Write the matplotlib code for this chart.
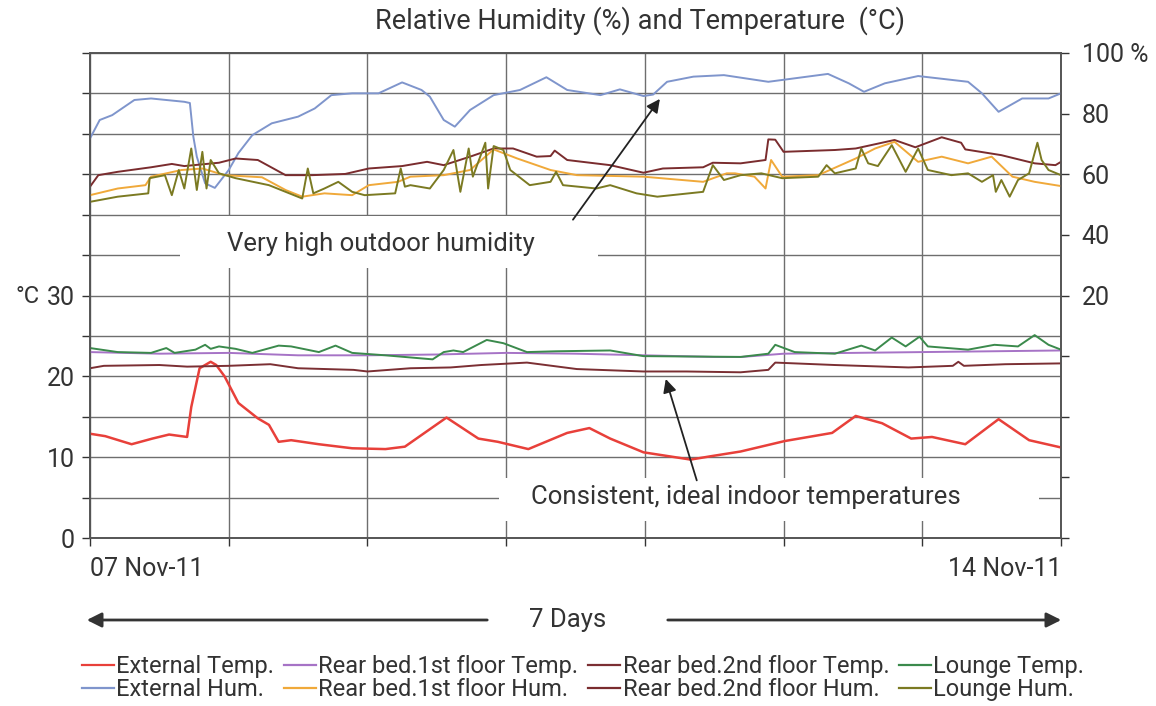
import matplotlib
matplotlib.use("Agg")
import matplotlib.pyplot as plt
from matplotlib.patches import Rectangle, FancyArrowPatch
from matplotlib.lines import Line2D

plt.rcParams['font.family'] = ['Roboto', 'DejaVu Sans']

# --- data: x in days from 07 Nov-11, temperature in degC, humidity in % ---
ext_temp_d = [0.00, 0.11, 0.30, 0.45, 0.57, 0.70, 0.73, 0.79, 0.87, 0.91, 0.97, 1.07, 1.21, 1.29,
              1.36, 1.45, 1.65, 1.89, 2.13, 2.27, 2.57, 2.80, 2.94, 3.16, 3.44, 3.60, 3.75, 3.99,
              4.33, 4.47, 4.69, 5.01, 5.35, 5.52, 5.71, 5.92, 6.07, 6.31, 6.55, 6.77, 7.00]
ext_temp = [12.9, 12.6, 11.6, 12.3, 12.8, 12.5, 16.2, 21.0, 21.8, 21.4, 20.0, 16.7, 14.8, 14.0,
            11.9, 12.1, 11.6, 11.1, 11.0, 11.3, 14.9, 12.3, 11.9, 11.0, 13.0, 13.6, 12.3, 10.6,
            9.7, 10.1, 10.7, 12.0, 13.0, 15.1, 14.2, 12.3, 12.5, 11.6, 14.7, 12.1, 11.2]

r1_temp_d = [0.0, 0.5, 1.0, 1.5, 2.0, 2.5, 3.0, 3.5, 4.0, 4.5, 4.7, 5.0, 5.5, 6.0, 6.5, 7.0]
r1_temp = [23.0, 22.8, 22.9, 22.6, 22.6, 22.7, 22.9, 22.8, 22.6, 22.4, 22.4, 22.8, 22.9, 23.0, 23.1, 23.2]

r2_temp_d = [0.00, 0.10, 0.50, 0.70, 1.00, 1.30, 1.50, 1.90, 2.00, 2.31, 2.60, 2.82, 3.15, 3.51,
             3.99, 4.30, 4.69, 4.89, 4.94, 5.37, 5.90, 6.22, 6.26, 6.30, 6.60, 7.00]
r2_temp = [21.0, 21.3, 21.4, 21.2, 21.3, 21.5, 21.0, 20.8, 20.6, 21.0, 21.1, 21.4, 21.7, 20.9,
           20.6, 20.6, 20.5, 20.8, 21.7, 21.4, 21.1, 21.3, 21.8, 21.3, 21.5, 21.6]

lounge_temp_d = [0.00, 0.20, 0.44, 0.55, 0.61, 0.76, 0.83, 0.87, 0.93, 1.05, 1.17, 1.36, 1.45, 1.65,
                 1.77, 1.89, 2.13, 2.47, 2.55, 2.62, 2.69, 2.86, 2.98, 3.15, 3.36, 3.75, 3.99, 4.69,
                 4.89, 4.94, 5.08, 5.37, 5.56, 5.66, 5.78, 5.88, 5.98, 6.04, 6.33, 6.52, 6.69, 6.81,
                 6.91, 7.00]
lounge_temp = [23.5, 23.0, 22.9, 23.5, 22.9, 23.3, 23.9, 23.4, 23.7, 23.4, 22.9, 23.8, 23.7, 23.0,
               23.8, 22.9, 22.6, 22.1, 23.0, 23.2, 23.0, 24.5, 24.1, 23.0, 23.1, 23.2, 22.5, 22.4,
               22.8, 23.9, 23.0, 22.8, 23.8, 23.2, 24.8, 23.7, 24.9, 23.7, 23.3, 23.9, 23.7, 25.1,
               23.9, 23.3]

ext_hum_d = [0.00, 0.07, 0.16, 0.32, 0.44, 0.68, 0.72, 0.745, 0.77, 0.83, 0.90, 1.00, 1.07, 1.17,
             1.31, 1.50, 1.62, 1.74, 1.89, 2.08, 2.25, 2.39, 2.45, 2.55, 2.63, 2.74, 2.91, 3.10,
             3.29, 3.44, 3.68, 3.82, 3.99, 4.06, 4.16, 4.35, 4.57, 4.89, 5.32, 5.47, 5.58, 5.73,
             5.97, 6.33, 6.43, 6.55, 6.72, 6.91, 7.00]
ext_hum = [71.8, 77.9, 79.5, 84.5, 85.0, 83.9, 83.5, 72.4, 65.8, 57.0, 55.5, 61.4, 67.0, 72.9,
           76.8, 79.0, 81.7, 86.1, 86.7, 86.7, 90.3, 87.8, 85.6, 77.9, 75.7, 81.2, 86.1, 87.8,
           92.0, 87.8, 86.1, 88.0, 85.8, 86.3, 90.5, 92.2, 92.7, 90.5, 93.1, 90.0, 87.2, 90.0,
           92.4, 90.5, 86.7, 80.6, 85.0, 85.0, 86.7]

r1_hum_d = [0.00, 0.20, 0.40, 0.44, 0.66, 0.81, 0.97, 1.24, 1.41, 1.53, 1.69, 1.89, 2.01, 2.22,
            2.31, 2.55, 2.74, 2.91, 3.08, 3.32, 3.51, 3.99, 4.42, 4.59, 4.65, 4.79, 4.87, 4.91,
            4.99, 5.25, 5.52, 5.66, 5.80, 5.97, 6.14, 6.33, 6.50, 6.65, 6.81, 7.00]
r1_hum = [53.1, 55.3, 56.4, 59.2, 61.4, 61.9, 59.7, 59.0, 54.8, 52.6, 53.7, 53.1, 56.4, 57.5,
          59.2, 59.7, 61.4, 68.2, 65.2, 61.4, 59.7, 59.2, 57.5, 60.3, 60.3, 59.2, 55.3, 64.7,
          59.2, 59.7, 65.2, 68.5, 70.7, 64.1, 65.8, 63.6, 65.8, 59.2, 57.5, 56.1]

r2_hum_d = [0.00, 0.06, 0.20, 0.44, 0.59, 0.68, 0.93, 1.05, 1.21, 1.41, 1.60, 1.84, 2.01, 2.25,
            2.43, 2.55, 2.74, 2.91, 3.05, 3.22, 3.32, 3.35, 3.44, 3.75, 3.99, 4.13, 4.42, 4.49,
            4.69, 4.87, 4.89, 4.94, 5.00, 5.37, 5.52, 5.80, 5.95, 6.14, 6.28, 6.31, 6.57, 6.81,
            6.96, 7.00]
r2_hum = [55.9, 59.7, 60.8, 62.3, 63.4, 62.7, 63.8, 65.2, 64.7, 59.7, 59.7, 60.1, 61.9, 62.7,
          64.1, 63.0, 65.8, 68.5, 68.5, 65.8, 66.0, 67.8, 64.7, 63.0, 60.5, 61.9, 62.3, 63.8,
          63.6, 64.7, 71.5, 71.4, 67.4, 68.0, 68.5, 71.3, 68.9, 72.2, 70.4, 68.2, 66.3, 63.6,
          63.0, 64.1]

lounge_hum_d = [0.00, 0.20, 0.42, 0.43, 0.54, 0.59, 0.64, 0.68, 0.73, 0.77, 0.81, 0.84, 0.87, 0.93,
                1.05, 1.29, 1.53, 1.57, 1.61, 1.69, 1.79, 1.89, 1.98, 2.20, 2.24, 2.27, 2.31, 2.45,
                2.55, 2.62, 2.67, 2.73, 2.76, 2.85, 2.87, 2.91, 2.98, 3.03, 3.17, 3.32, 3.36, 3.41,
                3.65, 3.75, 3.94, 4.09, 4.42, 4.49, 4.57, 4.69, 4.84, 4.99, 5.25, 5.31, 5.37, 5.52,
                5.56, 5.61, 5.68, 5.78, 5.88, 5.97, 6.04, 6.21, 6.33, 6.43, 6.51, 6.53, 6.57, 6.63,
                6.69, 6.77, 6.83, 6.86, 6.91, 7.00]
lounge_hum = [50.9, 52.6, 53.7, 58.7, 59.7, 53.1, 61.4, 55.3, 68.5, 54.8, 67.4, 55.3, 64.7, 60.3,
              58.7, 56.4, 52.0, 61.9, 53.7, 55.3, 57.5, 54.2, 53.1, 53.7, 61.9, 55.9, 56.4, 55.3,
              61.4, 68.0, 54.2, 68.5, 59.2, 70.4, 55.3, 69.3, 68.0, 61.4, 56.4, 57.5, 60.8, 56.4,
              55.3, 56.4, 53.7, 52.6, 54.2, 63.0, 58.1, 59.7, 60.3, 58.7, 59.2, 63.0, 60.3, 61.9,
              68.5, 63.6, 62.7, 69.6, 60.8, 68.5, 61.4, 59.7, 60.3, 57.5, 59.7, 54.2, 58.1, 52.6,
              58.1, 60.3, 70.4, 64.7, 61.4, 59.7]

day_labels = ['07 Nov-11', '', '', '', '', '', '', '14 Nov-11']

txt = '#333333'

# --- figure ---
fig = plt.figure(figsize=(11.56, 7.06), dpi=100)
ax = fig.add_axes([90/1156, 1 - 538/706, 971/1156, 485/706])
ax.set_xlim(0, 7)
ax.set_ylim(0, 60)

ax.set_yticks(range(0, 61, 5))
ax.set_yticklabels(['0', '', '10', '', '20', '', '30', '', '', '', '', '', ''])
ax.set_xticks(range(8))
ax.set_xticklabels(day_labels)
xl = ax.get_xticklabels()
xl[0].set_ha('left')
xl[-1].set_ha('right')
ax.grid(True, color='#6e6e6e', lw=1.0, zorder=0)
ax.set_axisbelow(True)
ax.tick_params(axis='both', labelsize=18, colors=txt, length=6, width=1, direction='out')
ax.tick_params(axis='x', pad=8)
ax.tick_params(axis='y', pad=5)
for s in ax.spines.values():
    s.set_color('#555')
    s.set_linewidth(1.2)

# white boxes behind the annotation texts (they hide the grid)
ax.add_patch(Rectangle((0.65, 33.4), 3.01, 6.4, facecolor='white', edgecolor='none', zorder=1))
ax.add_patch(Rectangle((2.95, 2.1), 3.89, 5.3, facecolor='white', edgecolor='none', zorder=1))

lw = 1.4
ax.plot(ext_temp_d, ext_temp, color='#e8403a', lw=1.8, zorder=3)
ax.plot(r1_temp_d, r1_temp, color='#a673c6', lw=lw, zorder=3)
ax.plot(r2_temp_d, r2_temp, color='#7b2f33', lw=lw, zorder=3)
ax.plot(lounge_temp_d, lounge_temp, color='#3b8a4c', lw=lw, zorder=3)

ax2 = ax.twinx()
ax2.set_ylim(-60, 100)
ax2.set_yticks(range(-60, 101, 20))
ax2.set_yticklabels(['', '', '', '', '20', '40', '60', '80', '100 %'])
ax2.tick_params(axis='y', labelsize=18, colors=txt, length=6, width=1, pad=9)
for s in ax2.spines.values():
    s.set_color('#555')
    s.set_linewidth(1.2)

ax2.plot(ext_hum_d, ext_hum, color='#7f95cc', lw=lw)
ax2.plot(r2_hum_d, r2_hum, color='#7a2c2e', lw=lw)
ax2.plot(r1_hum_d, r1_hum, color='#f0a93a', lw=lw)
ax2.plot(lounge_hum_d, lounge_hum, color='#7b7a22', lw=lw)

# annotations
ax2.text(2.10, 36.4, 'Very high outdoor humidity', transform=ax.transData,
         fontsize=18.5, color=txt, ha='center', va='center')
ax2.annotate('', xy=(4.12, 54.6), xycoords=ax.transData, xytext=(3.47, 39.1), textcoords=ax.transData,
             arrowprops=dict(arrowstyle='-|>', color='#222', lw=1.3, mutation_scale=20))
ax2.text(4.73, 5.1, 'Consistent, ideal indoor temperatures', transform=ax.transData,
         fontsize=18.5, color=txt, ha='center', va='center')
ax2.annotate('', xy=(4.145, 20.0), xycoords=ax.transData, xytext=(4.38, 6.8), textcoords=ax.transData,
             arrowprops=dict(arrowstyle='-|>', color='#222', lw=1.3, mutation_scale=20))

fig.text(28/1156, 1 - 296/706, '°C', fontsize=17, color=txt, ha='center', va='center')
fig.text(640/1156, 1 - 21/706, 'Relative Humidity (%) and Temperature  (°C)',
         fontsize=19.5, color=txt, ha='center', va='center')

# 7 days arrow
ya = 1 - 620/706
fig.text(568/1156, ya, '7 Days', fontsize=18.5, color=txt, ha='center', va='center')
fig.add_artist(FancyArrowPatch((490/1156, ya), (84/1156, ya), transform=fig.transFigure,
                               arrowstyle='-|>', mutation_scale=22, color='#333', lw=2))
fig.add_artist(FancyArrowPatch((665/1156, ya), (1064/1156, ya), transform=fig.transFigure,
                               arrowstyle='-|>', mutation_scale=22, color='#333', lw=2))

# legend (filled column by column: temp above hum)
handles = [
    Line2D([], [], color='#e8403a', lw=1.6), Line2D([], [], color='#7f95cc', lw=1.6),
    Line2D([], [], color='#a673c6', lw=1.6), Line2D([], [], color='#f0a93a', lw=1.6),
    Line2D([], [], color='#7b2f33', lw=1.6), Line2D([], [], color='#7a2c2e', lw=1.6),
    Line2D([], [], color='#3b8a4c', lw=1.6), Line2D([], [], color='#7b7a22', lw=1.6),
]
labels = ['External Temp.', 'External Hum.', 'Rear bed.1st floor Temp.', 'Rear bed.1st floor Hum.',
          'Rear bed.2nd floor Temp.', 'Rear bed.2nd floor Hum.', 'Lounge Temp.', 'Lounge Hum.']
leg = fig.legend(handles, labels, ncol=4, loc='center', bbox_to_anchor=(583/1156, 1 - 678/706),
                 frameon=False, fontsize=17, handlelength=1.35, handletextpad=0.12,
                 columnspacing=0.4, labelspacing=0.0, borderaxespad=0, borderpad=0)
for t in leg.get_texts():
    t.set_color(txt)

fig.savefig('out.png', dpi=100)
